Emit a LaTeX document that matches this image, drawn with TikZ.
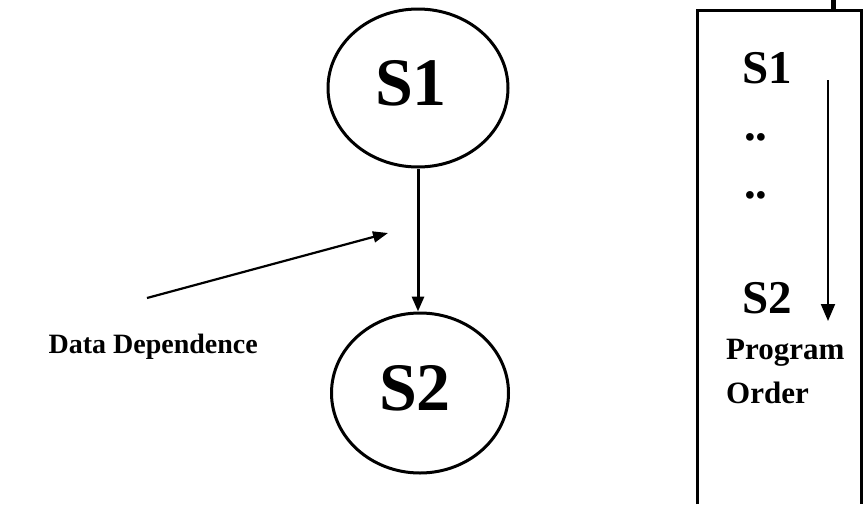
\documentclass[tikz,border=0pt]{standalone}
\usepackage{fontspec}
\setmainfont{Liberation Serif}
\usetikzlibrary{shapes.geometric,arrows.meta}
\tikzset{
  stmt/.style={ellipse, draw, line width=3pt, inner sep=0pt},
  bigtext/.style={inner sep=0pt, anchor=base, font=\bfseries\fontsize{68}{68}\selectfont},
  boxtext/.style={inner sep=0pt, anchor=base west, font=\bfseries\fontsize{47}{47}\selectfont},
  smalltext/.style={inner sep=0pt, anchor=base west, font=\bfseries\fontsize{31}{44}\selectfont, align=left},
  thickarrow/.style={line width=3pt, -{Triangle[length=15pt,width=12pt]}},
  thinarrow/.style={line width=2.2pt, -{Triangle[length=15pt,width=11pt]}},
}
\begin{document}
\begin{tikzpicture}[x=1pt,y=-1pt]
\useasboundingbox (0,0) rectangle (863,504);
% statement nodes
\node[stmt, minimum width=180pt, minimum height=158pt] (s1) at (418,88) {};
\node[bigtext] (s1t) at (411,105) {S1};
\node[stmt, minimum width=177pt, minimum height=160pt] (s2) at (420,393) {};
\node[bigtext] (s2t) at (415,410) {S2};
\draw[thickarrow] (s1.south) -- (s1.south |- s2.north);
% data dependence
\coordinate (ddtail) at (147,298);
\coordinate (ddtip) at (388,233);
\draw[thinarrow] (ddtail) -- (ddtip);
\node[inner sep=0pt, anchor=base east, font=\bfseries\fontsize{28}{30}\selectfont] (ddlabel) at (258,353) {Data Dependence};
% program order box
\draw[line width=3pt] (697,504) -- (697,10) -- (861,10) -- (861,504);
\coordinate (tickbot) at (833,10);
\coordinate (ticktop) at (833,0);
\draw[line width=5pt] (tickbot) -- (ticktop);
\node[boxtext] (b1) at (742,83) {S1};
\node[boxtext] (d1) at (744,140) {..};
\node[boxtext] (d2) at (744,198) {..};
\node[boxtext] (b2) at (742,313) {S2};
\coordinate (potop) at (828,80);
\coordinate (pobot) at (828,321);
\draw[line width=2pt, -{Triangle[length=17pt,width=14pt]}] (potop) -- (pobot);
\node[smalltext] (po) at (726,403) {Program\\Order};
\end{tikzpicture}
\end{document}
